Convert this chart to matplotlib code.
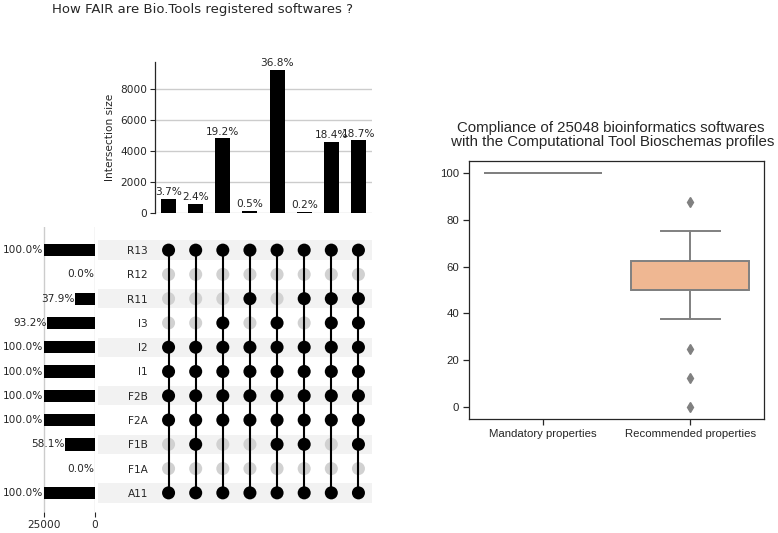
import matplotlib
matplotlib.use("Agg")
import matplotlib.pyplot as plt
from matplotlib.patches import Rectangle
import matplotlib.transforms as mtransforms

# ---------------- data ----------------
total_softwares = 25048
set_names = ['A11', 'F1A', 'F1B', 'F2A', 'F2B', 'I1', 'I2', 'I3', 'R11', 'R12', 'R13']  # bottom -> top
set_totals = [25048, 0, 14553, 25048, 25048, 25048, 25048, 23345, 9493, 0, 25048]
set_pct_labels = ['100.0%', '0.0%', '58.1%', '100.0%', '100.0%', '100.0%', '100.0%',
                  '93.2%', '37.9%', '0.0%', '100.0%']

intersection_sizes = [927, 601, 4809, 125, 9218, 50, 4609, 4684]
intersection_pct_labels = ['3.7%', '2.4%', '19.2%', '0.5%', '36.8%', '0.2%', '18.4%', '18.7%']
base_members = ['A11', 'F2A', 'F2B', 'I1', 'I2', 'R13']
intersection_members = [
    base_members,
    base_members + ['F1B'],
    base_members + ['I3'],
    base_members + ['R11'],
    base_members + ['I3', 'F1B'],
    base_members + ['R11', 'F1B'],
    base_members + ['R11', 'I3'],
    base_members + ['R11', 'I3', 'F1B'],
]

box_categories = ['Mandatory properties', 'Recommended properties']
box_q1 = [100, 50]
box_median = [100, 50]
box_q3 = [100, 62.5]
box_whislo = [100, 37.5]
box_whishi = [100, 75]
box_fliers = [[], [87.5, 25, 12.5, 0]]

# ---------------- figure ----------------
W, H = 778, 533
fig = plt.figure(figsize=(W / 100, H / 100), dpi=100)


def px_axes(x0, y0, x1, y1):
    return fig.add_axes([x0 / W, 1 - y1 / H, (x1 - x0) / W, (y1 - y0) / H])


FS = 7.6
ncol = len(intersection_sizes)
nrow = len(set_names)

# ---- intersection bars ----
ax_int = px_axes(155, 62, 372, 213)
xs = list(range(ncol))
ax_int.bar(xs, intersection_sizes, width=0.55, color='black', zorder=3)
for x, v, lab in zip(xs, intersection_sizes, intersection_pct_labels):
    ax_int.text(x, v + 120, lab, ha='center', va='bottom', fontsize=FS, color='#262626',
                family='DejaVu Sans', zorder=4)
ax_int.set_xlim(-0.5, ncol - 0.5)
ax_int.set_ylim(0, 9742)
ax_int.set_yticks([0, 2000, 4000, 6000, 8000])
ax_int.tick_params(axis='y', labelsize=FS, length=3.5, width=0.8, colors='#262626', pad=2)
ax_int.set_xticks([])
for s in ['top', 'right', 'bottom']:
    ax_int.spines[s].set_visible(False)
ax_int.spines['left'].set_color('#262626')
ax_int.spines['left'].set_linewidth(0.9)
ax_int.yaxis.grid(True, color='#cccccc', linewidth=1.0, zorder=0)
ax_int.set_axisbelow(True)
ax_int.set_ylabel('Intersection size', fontsize=FS, color='#262626', labelpad=4)
ax_int.patch.set_visible(False)

# ---- matrix ----
ax_mat = px_axes(155, 238, 372, 505)
ax_mat.set_xlim(-0.5, ncol - 0.5)
ax_mat.set_ylim(-0.5, nrow - 0.5)
trans = mtransforms.blended_transform_factory(ax_mat.transAxes, ax_mat.transData)
x_shade0 = (98 - 155) / (372 - 155)
for i in range(0, nrow, 2):
    ax_mat.add_patch(Rectangle((x_shade0, i - 0.4), 1 - x_shade0, 0.8, transform=trans,
                               facecolor='#f2f2f2', edgecolor='none', clip_on=False, zorder=0))
for c, members in enumerate(intersection_members):
    ys_in = [set_names.index(m) for m in members]
    ys_out = [i for i in range(nrow) if i not in ys_in]
    ax_mat.scatter([c] * len(ys_out), ys_out, s=88, color='#d1d1d1', edgecolor='none', zorder=2)
    ax_mat.plot([c, c], [min(ys_in), max(ys_in)], color='black', linewidth=1.5, zorder=3)
    ax_mat.scatter([c] * len(ys_in), ys_in, s=88, color='black', edgecolor='none', zorder=4)
ax_mat.set_yticks(range(nrow))
ax_mat.set_yticklabels(set_names)
ax_mat.tick_params(axis='y', length=0, labelsize=FS, colors='#262626', pad=5)
ax_mat.set_xticks([])
for s in ax_mat.spines.values():
    s.set_visible(False)
ax_mat.patch.set_visible(False)

# ---- totals ----
ax_tot = px_axes(42, 227, 94.5, 512)
ax_tot.barh(range(nrow), set_totals, height=0.5, color='black', zorder=3)
for i, (v, lab) in enumerate(zip(set_totals, set_pct_labels)):
    ax_tot.text(v + 150, i, lab, ha='right', va='center', fontsize=FS, color='#262626',
                clip_on=False, zorder=4)
xmax_tot = 25000 * (94.5 - 42) / (94.5 - 44)
ax_tot.set_xlim(xmax_tot, 0)
ax_tot.set_ylim(-0.78, 10.95)
ax_tot.set_xticks([25000, 0])
ax_tot.tick_params(axis='x', labelsize=FS, length=3.5, width=0.8, colors='#262626', pad=2)
ax_tot.set_yticks([])
for s in ax_tot.spines.values():
    s.set_visible(False)
ax_tot.xaxis.grid(True, color='#cccccc', linewidth=1.0, zorder=0)
ax_tot.set_axisbelow(True)
ax_tot.patch.set_visible(False)

fig.text(202 / W, 1 - 10 / H, 'How FAIR are Bio.Tools registered softwares ?', ha='center',
         va='center', fontsize=9.5, color='#262626')

# ---- box plot ----
ax_box = px_axes(469, 161, 764, 419)
stats = []
for i, name in enumerate(box_categories):
    stats.append(dict(label=name, q1=box_q1[i], med=box_median[i], q3=box_q3[i],
                      whislo=box_whislo[i], whishi=box_whishi[i], fliers=box_fliers[i]))
gray = '#808080'
bp = ax_box.bxp(stats, positions=[0, 1], widths=0.8, patch_artist=True, capwidths=0.4,
                boxprops=dict(edgecolor=gray, linewidth=1.4),
                medianprops=dict(color=gray, linewidth=1.4),
                whiskerprops=dict(color=gray, linewidth=1.4),
                capprops=dict(color=gray, linewidth=1.4),
                flierprops=dict(marker='d', markerfacecolor=gray, markeredgecolor=gray,
                                markersize=5, linestyle='none'))
for patch, col in zip(bp['boxes'], ['#9bc4ea', '#efb792']):
    patch.set_facecolor(col)
ax_box.set_xlim(-0.5, 1.5)
ax_box.set_ylim(-5, 105)
ax_box.set_yticks([0, 20, 40, 60, 80, 100])
ax_box.set_xticks([0, 1])
ax_box.set_xticklabels(box_categories)
for lab in ax_box.get_xticklabels() + ax_box.get_yticklabels():
    lab.set_family('Liberation Sans')
    lab.set_fontsize(8.2)
ax_box.tick_params(length=4, width=0.9, colors='#262626', pad=3)
for s in ax_box.spines.values():
    s.set_color('#262626')
    s.set_linewidth(0.9)
ax_box.set_title('Compliance of 25048 bioinformatics softwares\n with the Computational Tool Bioschemas profiles',
                 fontsize=10.8, family='Liberation Sans', color='#262626', pad=11,
                 linespacing=0.95, x=0.48)

fig.savefig('out.png', dpi=100)
